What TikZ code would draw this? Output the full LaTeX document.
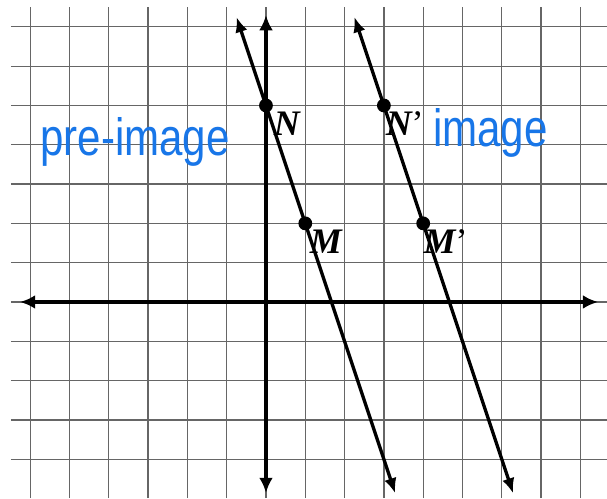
\documentclass[tikz,border=0pt]{standalone}
\usepackage{fontspec}
\setmainfont{Liberation Serif}
\newfontfamily\hand{Liberation Sans}
\usetikzlibrary{arrows.meta}
\definecolor{inkblue}{RGB}{24,118,232}
\newcommand{\uprime}{{\upshape\mdseries\char"0027}}
\tikzset{
  gridline/.style={draw=black!60, line width=0.9pt},
  axis/.style={draw=black, line width=2.9pt, {Latex[length=11pt,width=10pt]}-{Latex[length=11pt,width=10pt]}},
  slant/.style={draw=black, line width=2.4pt, {Latex[length=11pt,width=9pt]}-{Latex[length=11pt,width=9pt]}},
  dot/.style={circle, fill=black, inner sep=0pt, minimum size=10pt},
  ptlabel/.style={font=\fontsize{26}{26}\selectfont\bfseries\itshape, inner sep=0pt},
  handtext/.style={text=inkblue, inner sep=0pt}
}
\begin{document}
\begin{tikzpicture}[x=1cm,y=1cm]
\useasboundingbox (-6.768,-4.99) rectangle (8.677,7.684);
% grid
\foreach \i in {-6,...,8} \draw[gridline] (\i,-4.99) -- (\i,7.5);
\foreach \j in {-4,...,7} \draw[gridline] (-6.49,\j) -- (8.677,\j);
% axes
\coordinate (xl) at (-6.26,0);
\coordinate (xr) at (8.45,0);
\coordinate (yt) at (0,7.30);
\coordinate (yb) at (0,-4.86);
\draw[axis] (xl) -- (xr);
\draw[axis] (yb) -- (yt);
% labels (drawn before lines so lines overlap)
\node[ptlabel] (lN) at (0.53,4.53) {N};
\node[ptlabel] (lM) at (1.52,1.53) {M};
\node[ptlabel] (lNp) at (3.53,4.53) {N\uprime};
\node[ptlabel] (lMp) at (4.57,1.53) {M\uprime};
% slanted lines
\coordinate (t1) at (-0.75,7.25);
\coordinate (b1) at (3.29,-4.87);
\coordinate (t2) at (2.25,7.25);
\coordinate (b2) at (6.29,-4.87);
\draw[slant] (t1) -- (b1);
\draw[slant] (t2) -- (b2);
% points
\node[dot] (N) at (0,5) {};
\node[dot] (M) at (1,2) {};
\node[dot] (Np) at (3,5) {};
\node[dot] (Mp) at (4,2) {};
% handwritten labels
\node[handtext] (pre) at (-3.33,4.06) {\resizebox*{137pt}{35.4pt}{\hand pre-image}};
\node[handtext] (img) at (5.71,4.31) {\resizebox*{83pt}{35.4pt}{\hand image}};
\end{tikzpicture}
\end{document}
